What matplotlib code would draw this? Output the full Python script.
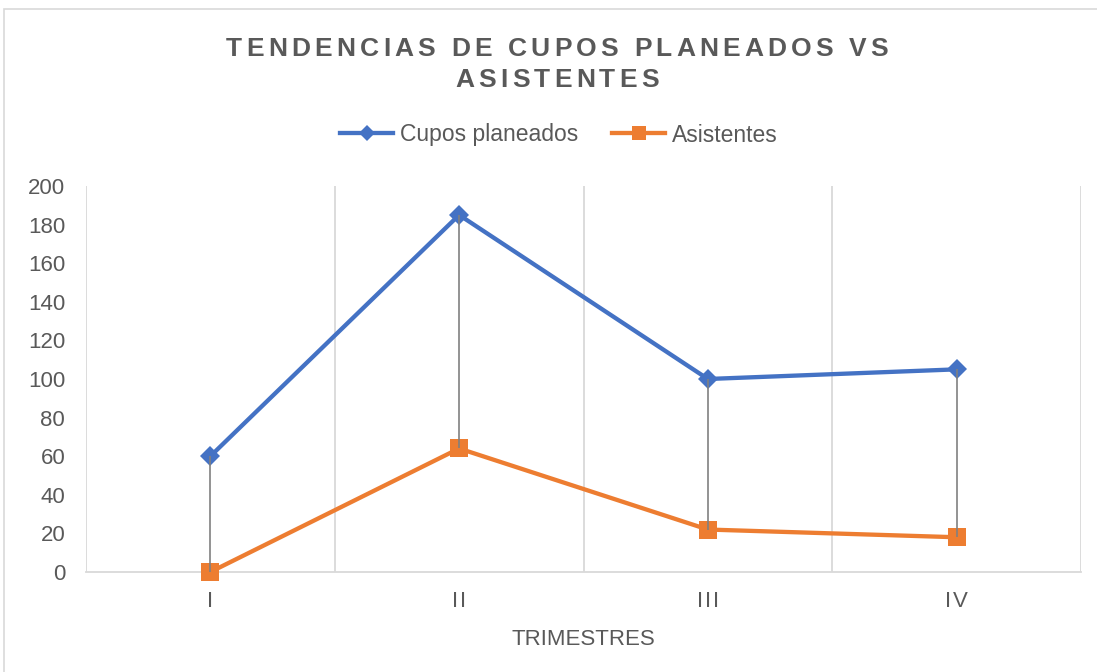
import numpy as np
import matplotlib
matplotlib.use("Agg")
import matplotlib.pyplot as plt
from matplotlib.patches import Rectangle
from matplotlib.font_manager import findfont, FontProperties
from matplotlib.ft2font import FT2Font

# -------------------------------
# DATOS
# -------------------------------
trimestres = ["I", "II", "III", "IV"]
cupos_planeados = [60, 185, 100, 105]
asistentes = [0, 64, 22, 18]
titulo = ["TENDENCIAS DE CUPOS PLANEADOS VS", "ASISTENTES"]

AZUL = "#4472C4"
NARANJA = "#ED7D31"
GRIS_TXT = "#595959"
GRIS_LIN = "#D9D9D9"

plt.rcParams["font.family"] = ["Liberation Sans", "DejaVu Sans"]

W, H = 1097, 672
fig = plt.figure(figsize=(W / 100, H / 100), dpi=100)

# marco exterior del grafico
fig.patches.append(Rectangle((4 / W, -0.05), 1.2, 1 - 9 / H + 0.05, transform=fig.transFigure,
                             fill=False, edgecolor=GRIS_LIN, linewidth=1.2))

ax = fig.add_axes([86 / W, 1 - 572 / H, (1081 - 86) / W, (572 - 186) / H])
x = np.arange(1, len(trimestres) + 1)

ax.plot(x, cupos_planeados, color=AZUL, lw=3.1, marker="D", ms=10, mew=0,
        label="Cupos planeados", zorder=3, clip_on=False)
ax.plot(x, asistentes, color=NARANJA, lw=3.1, marker="s", ms=13, mew=0,
        label="Asistentes", zorder=3, clip_on=False)
# lineas de maximo-minimo
ax.vlines(x, asistentes, cupos_planeados, color="#808080", lw=1.2, zorder=5)

ax.set_xlim(0.5, len(trimestres) + 0.5)
ax.set_ylim(0, 200)
ax.set_yticks(np.arange(0, 201, 20))
ax.set_xticks(x)
ax.set_xticklabels(["\u200a".join(t) for t in trimestres])
ax.set_xticks(np.arange(0.5, len(trimestres) + 1, 1), minor=True)
ax.grid(which="minor", axis="x", color=GRIS_LIN, lw=1.3)
ax.tick_params(axis="both", which="both", length=0, labelsize=16, colors=GRIS_TXT)
ax.tick_params(axis="y", pad=15)
ax.tick_params(axis="x", pad=14)
for s in ["top", "left", "right"]:
    ax.spines[s].set_visible(False)
ax.spines["bottom"].set_color(GRIS_LIN)
ax.spines["bottom"].set_linewidth(1.3)
ax.set_xlabel("TRIMESTRES", fontsize=16, color=GRIS_TXT, labelpad=12)

fig.legend(loc="center", bbox_to_anchor=(559 / W, 1 - 135 / H), ncol=2, frameon=False,
           fontsize=16.5, handlelength=2.3, handletextpad=0.3, columnspacing=1.5,
           markerscale=0.8, labelcolor=GRIS_TXT)

# titulo con espaciado entre letras
tam = 19
ruta = findfont(FontProperties(family="Liberation Sans", weight="bold"))
fuente = FT2Font(ruta)
fuente.set_size(tam, 100)
espacio = 4.2
for linea, y_base in zip(titulo, [56, 87]):
    avances = []
    for ch in linea:
        g = fuente.load_char(ord(ch))
        avances.append(g.linearHoriAdvance / 65536)
    ancho = sum(avances) + espacio * (len(linea) - 1)
    px = 557 - ancho / 2
    for ch, a in zip(linea, avances):
        fig.text(px / W, 1 - y_base / H, ch, fontsize=tam, fontweight="bold",
                 color=GRIS_TXT, ha="left", va="baseline")
        px += a + espacio

fig.savefig("out.png", dpi=100)
